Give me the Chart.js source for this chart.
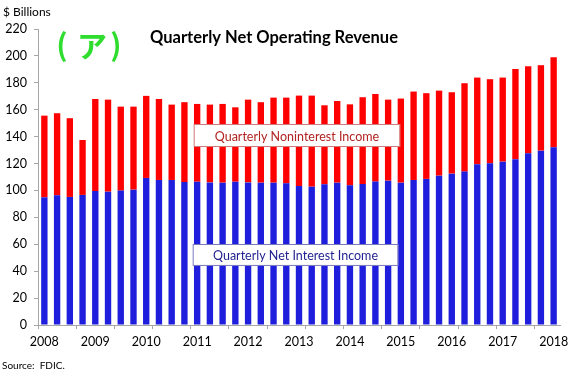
<!DOCTYPE html>
<html>
<head>
<meta charset="utf-8">
<script src="https://cdn.jsdelivr.net/npm/chart.js@4/dist/chart.umd.min.js"></script>
<style>
  html, body { margin: 0; padding: 0; background: #fff; }
  #wrap { width: 575px; height: 376px; }
</style>
</head>
<body>
<div id="wrap"><canvas id="chart"></canvas></div>
<script>
// quarterly, 2008 Q1 .. 2018 Q1
const years = ['2008', '2009', '2010', '2011', '2012', '2013', '2014', '2015', '2016', '2017', '2018'];
const quarters = [];
years.forEach(y => {
    for (let q = 1; q <= 4; q++) {
        if (y === '2018' && q > 1) break;
        quarters.push(y + ' Q' + q);
    }
});

// $ billions
const netInterest = [94.9, 96.4, 95.2, 96.7, 99.6, 99.1, 99.9, 100.6, 109.3, 107.8,
    107.8, 106.2, 106.5, 106.0, 105.8, 106.5, 106.0, 105.8, 105.8, 105.3,
    103.3, 102.8, 104.6, 105.8, 103.8, 104.8, 106.6, 107.3, 105.8, 107.8,
    108.6, 111.0, 112.5, 114.0, 119.5, 120.2, 121.4, 123.2, 127.6, 129.6, 132.1];
const nonInterest = [60.7, 61.0, 58.5, 40.8, 68.4, 68.4, 62.4, 61.7, 61.0, 60.2,
    56.0, 59.4, 57.8, 57.8, 58.5, 55.3, 61.5, 59.8, 63.2, 63.7,
    67.2, 67.7, 58.7, 60.7, 60.2, 64.5, 65.1, 60.2, 62.5, 65.7,
    63.7, 63.2, 60.5, 65.7, 64.4, 62.5, 62.5, 67.1, 64.7, 63.5, 66.9];

const font = 'Lato, "Open Sans", sans-serif';

// titles, label boxes and source note
const overlay = {
    id: 'overlay',
    afterDatasetsDraw(chart) {
        const ctx = chart.ctx;
        const x = chart.scales.x, y = chart.scales.y;
        ctx.save();
        ctx.textBaseline = 'middle';

        ctx.fillStyle = '#000';
        ctx.font = '12px ' + font;
        ctx.textAlign = 'left';
        ctx.fillText('$ Billions', 3, 12);
        ctx.font = '10px ' + font;
        ctx.fillText('Source:  FDIC.', 2, 366);

        ctx.font = 'bold 16.5px ' + font;
        ctx.textAlign = 'center';
        ctx.fillText('Quarterly Net Operating Revenue', 274, 38);

        // (ア) marker, drawn piece by piece to get the wide spacing
        ctx.fillStyle = '#2EDD2E';
        ctx.font = 'bold 30px "Noto Sans CJK JP", sans-serif';
        ctx.fillText('(', 62, 45);
        ctx.fillText('ア', 92, 46);
        ctx.fillText(')', 116, 45);

        function box(i0, i1, v0, v1, text, color) {
            const l = x.getPixelForValue(i0), r = x.getPixelForValue(i1);
            const t = y.getPixelForValue(v0), b = y.getPixelForValue(v1);
            ctx.fillStyle = '#fff';
            ctx.fillRect(l, t, r - l, b - t);
            ctx.strokeStyle = color;
            ctx.globalAlpha = 0.6;
            ctx.lineWidth = 1;
            ctx.strokeRect(l + 0.5, t + 0.5, r - l - 1, b - t - 1);
            ctx.globalAlpha = 1;
            ctx.fillStyle = color;
            ctx.font = '12.5px ' + font;
            ctx.textAlign = 'center';
            ctx.fillText(text, (l + r) / 2, (t + b) / 2 + 1);
        }
        box(11.73, 27.95, 149.4, 132.3, 'Quarterly Noninterest Income', '#B22222');
        box(11.65, 27.8, 60.2, 43.9, 'Quarterly Net Interest Income', '#1F1F8F');
        ctx.restore();
    }
};

new Chart(document.getElementById('chart'), {
    type: 'bar',
    data: {
        labels: quarters,
        datasets: [{
            label: 'Quarterly Net Interest Income',
            data: netInterest,
            backgroundColor: '#1E1EDC'
        }, {
            label: 'Quarterly Noninterest Income',
            data: nonInterest,
            backgroundColor: '#FF0000'
        }]
    },
    options: {
        responsive: true,
        maintainAspectRatio: false,
        animation: false,
        layout: { padding: { top: 29, right: 15, bottom: 21, left: 0 } },
        plugins: {
            legend: { display: false },
            tooltip: { enabled: false }
        },
        datasets: {
            bar: { categoryPercentage: 1, barPercentage: 0.5 }
        },
        scales: {
            x: {
                stacked: true,
                afterFit(s) { s.height = 30; },
                border: { display: true, color: '#A6A6A6' },
                grid: {
                    offset: true,
                    drawOnChartArea: false,
                    tickLength: 4,
                    color: c => (c.index % 3 === 0 ? '#A6A6A6' : 'rgba(0,0,0,0)')
                },
                ticks: {
                    autoSkip: false,
                    maxRotation: 0,
                    padding: 5,
                    color: '#000',
                    font: { family: font, size: 12.5 },
                    callback: (v, i) => (i % 4 === 0 ? quarters[i].slice(0, 4) : '')
                }
            },
            y: {
                stacked: true,
                min: 0,
                max: 220,
                afterFit(s) { s.width = 38; },
                border: { display: true, color: '#A6A6A6' },
                grid: {
                    drawOnChartArea: false,
                    tickLength: 4,
                    color: '#A6A6A6'
                },
                ticks: {
                    stepSize: 20,
                    padding: 7,
                    color: '#000',
                    font: { family: font, size: 12.5 }
                }
            }
        }
    },
    plugins: [overlay]
});
</script>
</body>
</html>
